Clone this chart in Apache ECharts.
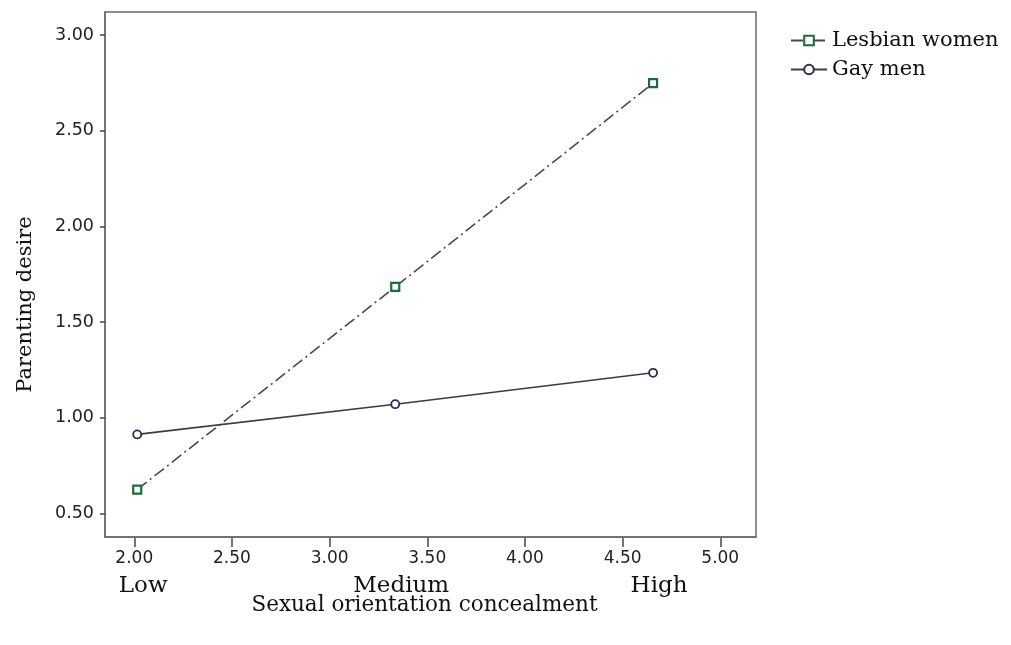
<!DOCTYPE html>
<html>
<head>
<meta charset="utf-8">
<script src="https://cdn.jsdelivr.net/npm/echarts@6/dist/echarts.min.js"></script>
<style>
html,body{margin:0;padding:0;background:#fff;}
#chart{width:1011px;height:645px;}
</style>
</head>
<body>
<div id="chart"></div>
<script>
// ---- data ----
const xValues = [2.015, 3.336, 4.656];
const levelLabels = ['Low', 'Medium', 'High'];
const lesbianWomen = [0.625, 1.684, 2.748];
const gayMen = [0.913, 1.071, 1.235];
const xTicks = [2.0, 2.5, 3.0, 3.5, 4.0, 4.5, 5.0];
const yTicks = [0.5, 1.0, 1.5, 2.0, 2.5, 3.0];
const seriesNames = ['Lesbian women', 'Gay men'];
const xTitle = 'Sexual orientation concealment';
const yTitle = 'Parenting desire';

const pair = (ys) => xValues.map((x, i) => [x, ys[i]]);

const chart = echarts.init(document.getElementById('chart'), null, {renderer: 'canvas'});
const serif = 'DejaVu Serif';
const sans = 'DejaVu Sans';
const tickStyle = {color: '#444', width: 1.5};

// main plot area and its x scale
const X_MIN = 1.85, X_MAX = 5.183;
const PLOT_LEFT = 105, PLOT_RIGHT = 756, PLOT_TOP = 12, PLOT_BOTTOM = 537, W = 1011, H = 645;
const TICK_LEN = 10;
const pxPerUnit = (PLOT_RIGHT - PLOT_LEFT) / (X_MAX - X_MIN);
// a strip just below the plot holding the x ticks, same x scale
const tMin = xTicks[0], tMax = xTicks[xTicks.length - 1];
const tickLeft = PLOT_LEFT + (tMin - X_MIN) * pxPerUnit;
const tickRight = W - (PLOT_LEFT + (tMax - X_MIN) * pxPerUnit);

const levelIndex = (v) => {
  let best = 0;
  xValues.forEach((x, i) => { if (Math.abs(x - v) < Math.abs(xValues[best] - v)) best = i; });
  return best;
};

chart.setOption({
  animation: false,
  backgroundColor: '#ffffff',
  grid: [{
    left: PLOT_LEFT, right: W - PLOT_RIGHT, top: PLOT_TOP, bottom: H - PLOT_BOTTOM,
    show: true, borderColor: '#6a6a6a', borderWidth: 1.5, backgroundColor: 'transparent'
  }, {
    left: tickLeft, right: tickRight, top: PLOT_BOTTOM + 1, bottom: H - PLOT_BOTTOM - TICK_LEN, show: false
  }],
  legend: {
    orient: 'vertical',
    left: 785, top: 25,
    itemWidth: 36, itemHeight: 12, itemGap: 8,
    textStyle: {fontFamily: serif, fontSize: 21, color: '#111'},
    data: seriesNames
  },
  xAxis: [{
    gridIndex: 0, type: 'value', min: X_MIN, max: X_MAX, position: 'bottom',
    axisLine: {show: true, onZero: false, lineStyle: {color: '#6a6a6a', width: 1.5}},
    axisTick: {show: false},
    splitLine: {show: false},
    axisLabel: {customValues: xValues, margin: 38, fontFamily: serif, fontSize: 23, color: '#111',
      padding: [0, 0, 0, 12],
      formatter: (v) => levelLabels[levelIndex(v)]},
    name: xTitle, nameLocation: 'middle', nameGap: 57, nameMoveOverlap: false,
    nameTextStyle: {fontFamily: serif, fontSize: 21.5, color: '#111', padding: [0, 12, 0, 0]}
  }, {
    gridIndex: 1, type: 'value', min: tMin, max: tMax, interval: 0.5, position: 'bottom',
    axisLine: {show: false, onZero: false},
    axisTick: {show: false},
    splitLine: {show: true, lineStyle: tickStyle},
    axisLabel: {margin: 3, fontFamily: sans, fontSize: 17, color: '#222',
      showMinLabel: true, showMaxLabel: true,
      formatter: (v) => Number(v).toFixed(2)}
  }],
  yAxis: [{
    gridIndex: 0, type: 'value', min: 0.377, max: 3.12,
    axisLine: {show: true, onZero: false, lineStyle: {color: '#6a6a6a', width: 1.5}},
    axisTick: {show: true, inside: false, length: 5, customValues: yTicks, lineStyle: tickStyle},
    splitLine: {show: false},
    axisLabel: {customValues: yTicks, margin: 11, fontFamily: sans, fontSize: 17.5, color: '#222',
      formatter: (v) => Number(v).toFixed(2)},
    name: yTitle, nameLocation: 'middle', nameGap: 69, nameRotate: 90,
    nameTextStyle: {fontFamily: serif, fontSize: 21, color: '#111', padding: [0, 60, 0, 0]}
  }, {
    gridIndex: 1, type: 'value', min: 0, max: 1, show: false
  }],
  series: [{
    name: seriesNames[0], type: 'line', xAxisIndex: 0, yAxisIndex: 0,
    data: pair(lesbianWomen),
    symbol: 'rect', symbolSize: 8,
    lineStyle: {color: '#4a4a4a', width: 1.6, type: [12, 4, 2, 4]},
    itemStyle: {color: '#ffffff', borderColor: '#1d6a3a', borderWidth: 2.2},
    z: 3
  }, {
    name: seriesNames[1], type: 'line', xAxisIndex: 0, yAxisIndex: 0,
    data: pair(gayMen),
    symbol: 'circle', symbolSize: 8,
    lineStyle: {color: '#3c3c3c', width: 1.6, type: 'solid'},
    itemStyle: {color: '#ffffff', borderColor: '#2a2f4d', borderWidth: 1.8},
    z: 3
  }]
});
</script>
</body>
</html>
